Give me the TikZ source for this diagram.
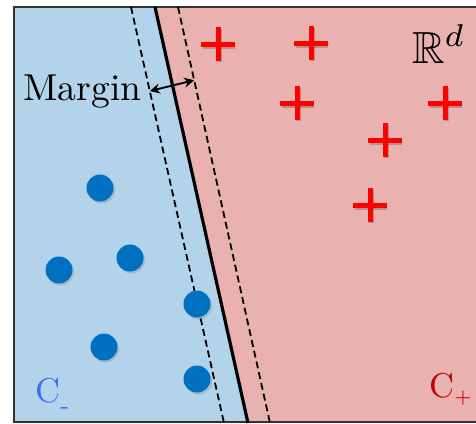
\documentclass[tikz,border=0pt]{standalone}
\usepackage{amssymb}
\usetikzlibrary{arrows.meta,shadows,calc}
\definecolor{bluebg}{HTML}{B3D3EA}
\definecolor{pinkbg}{HTML}{EAB1B1}
\definecolor{dotblue}{HTML}{0070C0}
\definecolor{plusred}{HTML}{FF0000}
\definecolor{cminus}{HTML}{3F6EF2}
\definecolor{cplus}{HTML}{C00000}
\tikzset{
  dotpt/.style={circle,fill=dotblue,minimum size=27pt,inner sep=0pt,
    drop shadow={shadow xshift=1.5pt,shadow yshift=-2pt,opacity=.3}},
  pluspt/.style={minimum size=34pt,inner sep=0pt,
    path picture={
      \draw[black,opacity=.2,line width=5pt] ([xshift=1.5pt,yshift=-2pt]path picture bounding box.west) -- ([xshift=1.5pt,yshift=-2pt]path picture bounding box.east);
      \draw[black,opacity=.2,line width=5pt] ([xshift=1.5pt,yshift=-2pt]path picture bounding box.north) -- ([xshift=1.5pt,yshift=-2pt]path picture bounding box.south);
      \draw[plusred,line width=5pt] (path picture bounding box.west) -- (path picture bounding box.east);
      \draw[plusred,line width=5pt] (path picture bounding box.north) -- (path picture bounding box.south);}},
  marginline/.style={line width=1.8pt,dash pattern=on 7pt off 4pt},
  sepline/.style={line width=3.2pt},
}
\begin{document}
\begin{tikzpicture}[x=1pt,y=-1pt]
\useasboundingbox (0,0) rectangle (476,423);
\fill[white] (0,0) rectangle (476,423);
% regions
\fill[bluebg] (14,7) -- (155,7) -- (248,423) -- (14,423) -- cycle;
\fill[pinkbg] (155,7) -- (476,7) -- (476,423) -- (248,423) -- cycle;
% frame
\draw[black!80,line width=2pt] (476,7) -- (14,7) -- (14,422) -- (476,422);
% lines
\coordinate (Lt) at (131,7);
\coordinate (Lb) at (224,423);
\coordinate (St) at (155,7);
\coordinate (Sb) at (248,423);
\coordinate (Rt) at (178,7);
\coordinate (Rb) at (270,423);
\draw[marginline] (Lt) -- (Lb);
\draw[sepline] (St) -- (Sb);
\draw[marginline] (Rt) -- (Rb);
% margin arrow
\coordinate (mA) at ($(Lt)!0.202!(Lb)$);
\coordinate (mB) at ($(Rt)!0.176!(Rb)$);
\draw[line width=1.9pt,{Stealth[length=10pt,width=10pt]}-{Stealth[length=10pt,width=10pt]}] (mA) -- (mB);
\node[anchor=base,inner sep=0pt] (margin) at (82.5,100) {\scalebox{3.75}{Margin}};
% dots
\node[dotpt] (d1) at (100,188) {};
\node[dotpt] (d2) at (59,270) {};
\node[dotpt] (d3) at (130,258) {};
\node[dotpt] (d4) at (197,304) {};
\node[dotpt] (d5) at (104,347) {};
\node[dotpt] (d6) at (197,379) {};
% pluses
\node[pluspt] (p1) at (218,44) {};
\node[pluspt] (p2) at (311,43) {};
\node[pluspt] (p3) at (297,103) {};
\node[pluspt] (p4) at (445,103) {};
\node[pluspt] (p5) at (385,140) {};
\node[pluspt] (p6) at (370,205) {};
% labels
\node[anchor=base west,inner sep=0pt] (rd) at (412,63) {\scalebox{4.5}{$\mathbb{R}^d$}};
\node[anchor=base west,inner sep=0pt,text=cminus] (cm) at (35,402) {\scalebox{3.45}{C\raisebox{-3.4pt}{\fontsize{7}{7}\selectfont -}}};
\node[anchor=base west,inner sep=0pt,text=cplus] (cp) at (429,397) {\scalebox{3.45}{C\raisebox{-1.6pt}{\fontsize{4}{4}\selectfont$+$}}};
\end{tikzpicture}
\end{document}
